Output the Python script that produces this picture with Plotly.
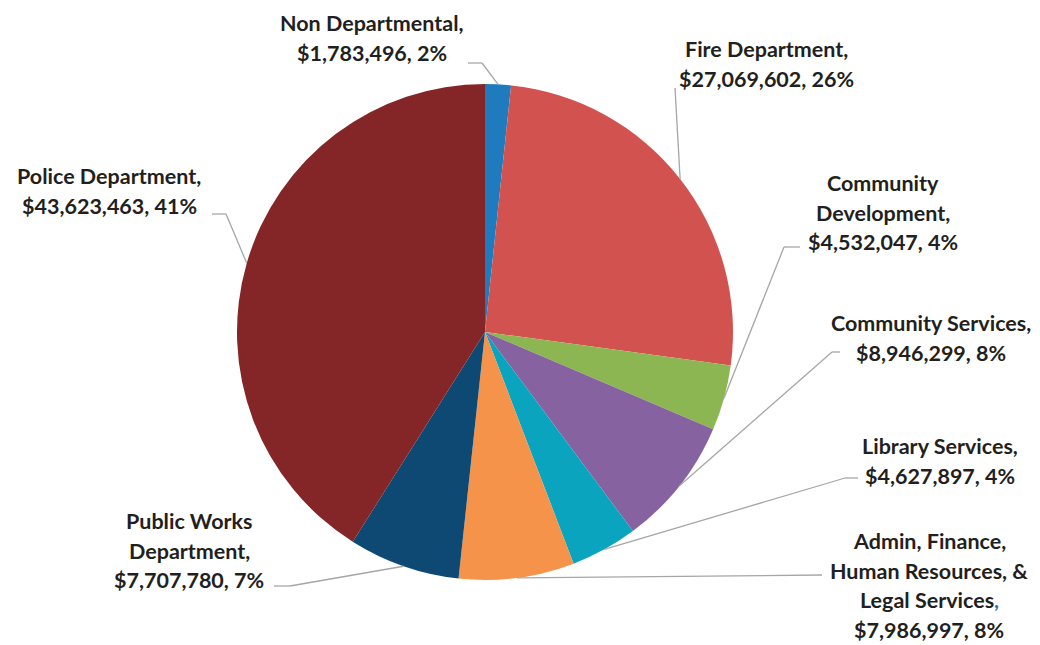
import math
import plotly.graph_objects as go

# Budget by department (dollars), clockwise from 12 o'clock
departments = [
    "Non Departmental",
    "Fire Department",
    "Community Development",
    "Community Services",
    "Library Services",
    "Admin, Finance, Human Resources, & Legal Services",
    "Public Works Department",
    "Police Department",
]
amounts = [1783496, 27069602, 4532047, 8946299, 4627897, 7986997, 7707780, 43623463]
pct_labels = ["2%", "26%", "4%", "8%", "4%", "8%", "7%", "41%"]
slice_colors = ["#1F7BBE", "#D1524E", "#8CB652", "#8662A0", "#0AA4BF", "#F6934A", "#0D4972", "#842627"]

# Wrapped heading lines of each data label
label_heads = [
    ["Non Departmental,"],
    ["Fire Department,"],
    ["Community", "Development,"],
    ["Community Services,"],
    ["Library Services,"],
    ["Admin, Finance,", "Human Resources, &", "Legal Services<span style='color:#2E75B6'>,</span>"],
    ["Public Works", "Department,"],
    ["Police Department,"],
]

# Figure geometry in pixels
W, H = 1040, 645
CX, CY, R = 485, 332, 248

# Label placement: centre x, first line y, leader elbow (x, y), leader end x
label_layout = [
    dict(cx=372, y0=23, elbow=(482, 63), end=468),
    dict(cx=766, y0=49, elbow=(675, 88), end=675),
    dict(cx=883, y0=183, elbow=(784, 247), end=800),
    dict(cx=931, y0=323, elbow=(832, 352), end=840),
    dict(cx=940, y0=446, elbow=(845, 478), end=858),
    dict(cx=929, y0=541, elbow=(822, 575), end=822),
    dict(cx=189, y0=521, elbow=(290, 586), end=274),
    dict(cx=109, y0=176, elbow=(226, 214), end=212),
]
LINE_PITCH = 29.5
TEXT_COLOR = "#231F20"
LEADER_COLOR = "#A6A6A6"

fig = go.Figure()

fig.add_trace(go.Pie(
    labels=departments,
    values=amounts,
    sort=False,
    direction="clockwise",
    rotation=0,
    marker=dict(colors=slice_colors, line=dict(width=0)),
    textinfo="none",
    hoverinfo="label+value+percent",
    showlegend=False,
    domain=dict(x=[(CX - R) / W, (CX + R) / W], y=[1 - (CY + R) / H, 1 - (CY - R) / H]),
))

# Invisible pixel-space axes for leader lines and labels
fig.add_trace(go.Scatter(x=[0, W], y=[0, H], mode="markers", marker=dict(opacity=0),
                         hoverinfo="skip", showlegend=False))

total = sum(amounts)
cum = 0.0
for i, amt in enumerate(amounts):
    mid = (cum + amt / 2) / total
    cum += amt
    ang = 2 * math.pi * mid
    sx = CX + R * math.sin(ang)
    sy = CY - R * math.cos(ang)
    lay = label_layout[i]
    ex, ey = lay["elbow"]
    fig.add_shape(type="line", x0=sx, y0=sy, x1=ex, y1=ey, xref="x", yref="y",
                  line=dict(color=LEADER_COLOR, width=1.3))
    if lay["end"] != ex:
        fig.add_shape(type="line", x0=ex, y0=ey, x1=lay["end"], y1=ey, xref="x", yref="y",
                      line=dict(color=LEADER_COLOR, width=1.3))

    lines = label_heads[i] + [f"${amt:,}, {pct_labels[i]}"]
    for k, txt in enumerate(lines):
        fig.add_annotation(
            x=lay["cx"], y=lay["y0"] + k * LINE_PITCH, xref="x", yref="y",
            text=f"<b>{txt}</b>", showarrow=False,
            xanchor="center", yanchor="middle",
            font=dict(family="Lato, 'Open Sans', sans-serif", size=21.5, color=TEXT_COLOR),
        )

fig.update_layout(
    width=W, height=H,
    margin=dict(l=0, r=0, t=0, b=0),
    paper_bgcolor="white", plot_bgcolor="white",
    xaxis=dict(range=[0, W], visible=False, domain=[0, 1], fixedrange=True),
    yaxis=dict(range=[H, 0], visible=False, domain=[0, 1], fixedrange=True),
)

fig.write_html("out.html")
